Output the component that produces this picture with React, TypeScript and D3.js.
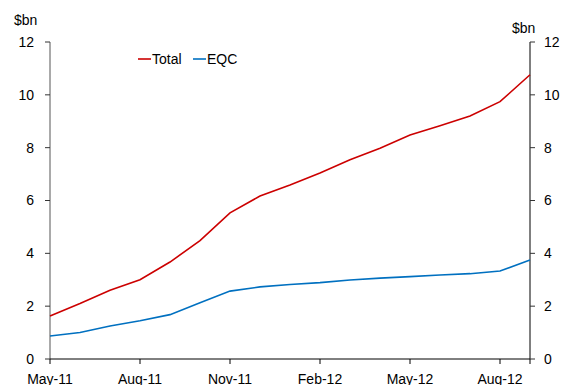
import React from "react";
import * as d3 from "d3";

const months = ["May-11","Jun-11","Jul-11","Aug-11","Sep-11","Oct-11","Nov-11","Dec-11","Jan-12","Feb-12","Mar-12","Apr-12","May-12","Jun-12","Jul-12","Aug-12","Sep-12"];
const totalValues = [1.63,2.1,2.6,3.0,3.67,4.48,5.53,6.17,6.59,7.04,7.54,7.98,8.48,8.83,9.2,9.74,10.76];
const eqcValues = [0.87,1.0,1.25,1.45,1.68,2.13,2.57,2.73,2.82,2.89,2.99,3.06,3.12,3.18,3.23,3.33,3.75];
const xTickLabels = ["May-11","Aug-11","Nov-11","Feb-12","May-12","Aug-12"];
const yTicks = [0,2,4,6,8,10,12];

export default function App() {
  const W = 561, H = 385;
  const left = 50, right = 530, top = 42, bottom = 359;
  const x = d3.scalePoint<string>().domain(months).range([left, right]);
  const y = d3.scaleLinear().domain([0, 12]).range([bottom, top]);
  const line = d3.line<number>().x((_, i) => x(months[i]) as number).y(d => y(d));
  const font = "Liberation Sans, Arial, sans-serif";
  const fs = 14;
  return (
    <svg width={W} height={H} style={{ position: "absolute", left: 0, top: 0, background: "#fff" }} fontFamily={font}>
      <line x1={left} x2={left} y1={top} y2={bottom} stroke="#555" strokeWidth={1} />
      <line x1={right} x2={right} y1={top} y2={bottom} stroke="#000" strokeWidth={1} />
      <line x1={left} x2={right} y1={bottom} y2={bottom} stroke="#000" strokeWidth={1} />
      {yTicks.map(t => (
        <g key={t}>
          <line x1={left - 5} x2={left} y1={y(t)} y2={y(t)} stroke="#333" />
          <text x={34} y={y(t)} dy="0.35em" textAnchor="end" fontSize={fs} fill="#000">{t}</text>
          <line x1={right} x2={right + 5} y1={y(t)} y2={y(t)} stroke="#333" />
          <text x={544} y={y(t)} dy="0.35em" textAnchor="start" fontSize={fs} fill="#000">{t}</text>
        </g>
      ))}
      {xTickLabels.map(m => (
        <g key={m}>
          <line x1={x(m)} x2={x(m)} y1={bottom} y2={bottom + 5} stroke="#000" />
          <text x={x(m)} y={384} textAnchor="middle" fontSize={fs} fill="#000">{m}</text>
        </g>
      ))}
      <line x1={right} x2={right} y1={bottom} y2={bottom + 5} stroke="#000" />
      <text x={14} y={25} fontSize={fs} fill="#000">$bn</text>
      <text x={512} y={33} fontSize={fs} fill="#000">$bn</text>
      <path d={line(totalValues) || ""} fill="none" stroke="#CC0000" strokeWidth={1.6} />
      <path d={line(eqcValues) || ""} fill="none" stroke="#0070C0" strokeWidth={1.6} />
      <line x1={138} x2={151} y1={59} y2={59} stroke="#CC0000" strokeWidth={1.6} />
      <text x={152} y={64} fontSize={fs} fill="#000">Total</text>
      <line x1={193} x2={206} y1={59} y2={59} stroke="#0070C0" strokeWidth={1.6} />
      <text x={207} y={64} fontSize={fs} fill="#000">EQC</text>
    </svg>
  );
}
